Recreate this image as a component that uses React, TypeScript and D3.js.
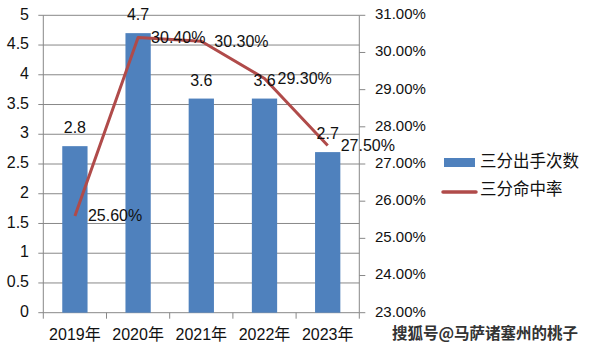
import React from "react";
import * as d3 from "d3";

const categories = ["2019年", "2020年", "2021年", "2022年", "2023年"];
const attempts = [2.8, 4.7, 3.6, 3.6, 2.7];
const pct = [25.6, 30.4, 30.3, 29.3, 27.5];
const leftTicks = [0, 0.5, 1, 1.5, 2, 2.5, 3, 3.5, 4, 4.5, 5];
const rightTicks = [23, 24, 25, 26, 27, 28, 29, 30, 31];
const seriesNames = ["三分出手次数", "三分命中率"];
const watermark = "搜狐号@马萨诸塞州的桃子";

const W = 590, H = 355;
const L = 43.3, R = 359.3, T = 15.3, B = 312.7;
const FONT = "'Liberation Sans', 'Noto Sans CJK SC', sans-serif";
const CJK = "'Noto Sans CJK SC', sans-serif";
const BLUE = "#4F81BD";
const RED = "#B04B4A";
const GRID = "#888";

export default function App() {
  const x = d3.scaleBand<string>().domain(categories).range([L, R]).padding(0);
  const yL = d3.scaleLinear().domain([0, 5]).range([B, T]);
  const yR = d3.scaleLinear().domain([23, 31]).range([B, T]);
  const bw = x.bandwidth() * 0.4;
  const cx = (c: string) => (x(c) as number) + x.bandwidth() / 2;
  const line = d3
    .line<number>()
    .x((_, i) => cx(categories[i]))
    .y((d) => yR(d));
  const boundaries = [...categories.map((c) => x(c) as number), R];

  return (
    <svg width={W} height={H} style={{ position: "absolute", left: 0, top: 0, background: "#fff" }}>
      <rect width={W} height={H} fill="#fff" />
      {leftTicks.map((t) => (
        <line key={"g" + t} x1={L - 5} x2={R} y1={yL(t)} y2={yL(t)} stroke={GRID} strokeWidth={1} />
      ))}
      {rightTicks.map((t) => (
        <line key={"rt" + t} x1={R} x2={R + 6} y1={yR(t)} y2={yR(t)} stroke={GRID} strokeWidth={1} />
      ))}
      <line x1={L} x2={L} y1={T} y2={B} stroke={GRID} />
      <line x1={R} x2={R} y1={T} y2={B} stroke={GRID} />
      {boundaries.map((b, i) => (
        <line key={"ct" + i} x1={b} x2={b} y1={B} y2={B + 6} stroke={GRID} />
      ))}
      {categories.map((c, i) => (
        <rect
          key={"b" + c}
          x={cx(c) - bw / 2}
          y={yL(attempts[i])}
          width={bw}
          height={B - yL(attempts[i])}
          fill={BLUE}
        />
      ))}
      <path d={line(pct) || ""} fill="none" stroke={RED} strokeWidth={3} strokeLinejoin="round" />
      {categories.map((c, i) => (
        <text
          key={"bl" + c}
          x={cx(c)}
          y={yL(attempts[i]) - 17}
          textAnchor="middle"
          dominantBaseline="middle"
          fontFamily={FONT}
          fontSize={16}
          fill="#111"
        >
          {attempts[i]}
        </text>
      ))}
      {categories.map((c, i) => (
        <text
          key={"ll" + c}
          x={cx(c) + 13}
          y={yR(pct[i]) + 1}
          dominantBaseline="middle"
          fontFamily={FONT}
          fontSize={16}
          fill="#111"
        >
          {pct[i].toFixed(2) + "%"}
        </text>
      ))}
      {leftTicks.map((t) => (
        <text
          key={"lt" + t}
          x={29}
          y={yL(t)}
          textAnchor="end"
          dominantBaseline="middle"
          fontFamily={FONT}
          fontSize={16}
          fill="#111"
        >
          {String(t)}
        </text>
      ))}
      {rightTicks.map((t) => (
        <text
          key={"rl" + t}
          x={375}
          y={yR(t)}
          dominantBaseline="middle"
          fontFamily={FONT}
          fontSize={15}
          fill="#111"
        >
          {t.toFixed(2) + "%"}
        </text>
      ))}
      {categories.map((c) => (
        <text
          key={"cl" + c}
          x={cx(c)}
          y={336}
          textAnchor="middle"
          dominantBaseline="middle"
          fontFamily={FONT}
          fontSize={16}
          fill="#111"
        >
          {c}
        </text>
      ))}
      <rect x={444} y={158} width={31} height={9} fill={BLUE} />
      <text x={480} y={162.5} dominantBaseline="middle" fontFamily={CJK} fontSize={16.5} fill="#111">
        {seriesNames[0]}
      </text>
      <line x1={443} x2={476} y1={192} y2={192} stroke={RED} strokeWidth={3.5} strokeLinecap="round" />
      <text x={480} y={191} dominantBaseline="middle" fontFamily={CJK} fontSize={16.5} fill="#111">
        {seriesNames[1]}
      </text>
      <text
        x={392}
        y={335}
        dominantBaseline="middle"
        fontFamily={CJK}
        fontWeight="bold"
        fontSize={15.5}
        fill="#333"
        stroke="#fff"
        strokeWidth={2.5}
        paintOrder="stroke"
      >
        {watermark}
      </text>
    </svg>
  );
}
